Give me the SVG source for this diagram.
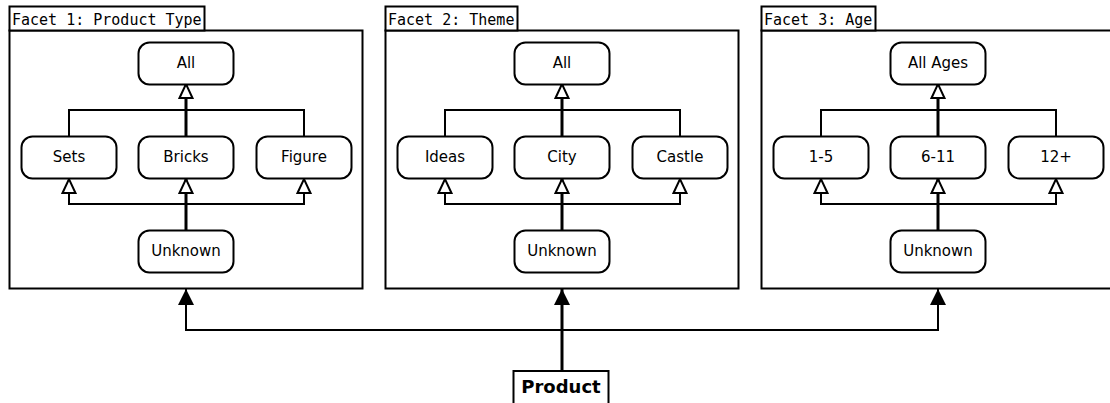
<svg xmlns="http://www.w3.org/2000/svg" width="1110" height="403" viewBox="0 0 1110 403">
<style>
.frame{fill:none;stroke:#000;stroke-width:2}
.lbl{fill:#fff;stroke:#000;stroke-width:2}
.lt{font-family:"DejaVu Sans Mono","Liberation Mono",monospace;font-size:15px;fill:#000}
.node rect{fill:#fff;stroke:#000;stroke-width:2}
.node text{font-family:"DejaVu Sans","Liberation Sans",sans-serif;font-size:15px;fill:#000;text-anchor:middle}
.c{fill:none;stroke:#000;stroke-width:2}
.c3{fill:none;stroke:#000;stroke-width:3}
.pt{font-family:"DejaVu Sans","Liberation Sans",sans-serif;font-size:18px;font-weight:bold;fill:#000;text-anchor:middle}
</style>
<defs>
<marker id="hollow" markerUnits="userSpaceOnUse" viewBox="0 0 16 14" refX="15" refY="7" markerWidth="16" markerHeight="14" orient="auto" overflow="visible">
<path d="M1,0.5 L15,7 L1,13.5 Z" fill="#fff" stroke="#000" stroke-width="2" stroke-linejoin="miter"/>
</marker>
<marker id="solid" markerUnits="userSpaceOnUse" viewBox="0 0 16 16" refX="16" refY="8" markerWidth="16" markerHeight="16" orient="auto" overflow="visible">
<path d="M0,0 L16,8 L0,16 Z" fill="#000"/>
</marker>
</defs>
<rect width="1110" height="403" fill="#fff"/>

<g id="facet1">
<rect class="frame" x="9.5" y="30.5" width="353" height="258"/>
<rect class="lbl" x="9.5" y="6.5" width="195" height="24"/>
<text class="lt" x="12" y="25">Facet 1: Product Type</text>
</g>
<g id="facet2">
<rect class="frame" x="385.5" y="30.5" width="353" height="258"/>
<rect class="lbl" x="385.5" y="6.5" width="132" height="24"/>
<text class="lt" x="388" y="25">Facet 2: Theme</text>
</g>
<g id="facet3">
<rect class="frame" x="761.5" y="30.5" width="360" height="258"/>
<rect class="lbl" x="761.5" y="6.5" width="114" height="24"/>
<text class="lt" x="764" y="25">Facet 3: Age</text>
</g>

<g id="connectors">
<!-- facet 1 -->
<path class="c" d="M69,136 V110 H304 V136"/>
<path class="c3" d="M186,136 V84" marker-end="url(#hollow)"/>
<path class="c" d="M186,204 H69 V179" marker-end="url(#hollow)"/>
<path class="c" d="M186,204 H304 V179" marker-end="url(#hollow)"/>
<path class="c3" d="M186,230 V179" marker-end="url(#hollow)"/>
<!-- facet 2 -->
<path class="c" d="M445,136 V110 H680 V136"/>
<path class="c3" d="M562,136 V84" marker-end="url(#hollow)"/>
<path class="c" d="M562,204 H445 V179" marker-end="url(#hollow)"/>
<path class="c" d="M562,204 H680 V179" marker-end="url(#hollow)"/>
<path class="c3" d="M562,230 V179" marker-end="url(#hollow)"/>
<!-- facet 3 -->
<path class="c" d="M821,136 V110 H1056 V136"/>
<path class="c3" d="M938,136 V84" marker-end="url(#hollow)"/>
<path class="c" d="M938,204 H821 V179" marker-end="url(#hollow)"/>
<path class="c" d="M938,204 H1056 V179" marker-end="url(#hollow)"/>
<path class="c3" d="M938,230 V179" marker-end="url(#hollow)"/>
<!-- product -->
<path class="c" d="M562,330 H186 V289" marker-end="url(#solid)"/>
<path class="c" d="M562,330 H938 V289" marker-end="url(#solid)"/>
<path class="c3" d="M562,371 V289" marker-end="url(#solid)"/>
</g>

<g id="f1-all" class="node"><rect x="138.5" y="42.5" width="95" height="42" rx="11"/><text x="186" y="68">All</text></g>
<g id="f1-sets" class="node"><rect x="21.5" y="136.5" width="95" height="42" rx="11"/><text x="69" y="162">Sets</text></g>
<g id="f1-bricks" class="node"><rect x="138.5" y="136.5" width="95" height="42" rx="11"/><text x="186" y="162">Bricks</text></g>
<g id="f1-figure" class="node"><rect x="256.5" y="136.5" width="95" height="42" rx="11"/><text x="304" y="162">Figure</text></g>
<g id="f1-unknown" class="node"><rect x="138.5" y="230.5" width="95" height="42" rx="11"/><text x="186" y="256">Unknown</text></g>

<g id="f2-all" class="node"><rect x="514.5" y="42.5" width="95" height="42" rx="11"/><text x="562" y="68">All</text></g>
<g id="f2-ideas" class="node"><rect x="397.5" y="136.5" width="95" height="42" rx="11"/><text x="445" y="162">Ideas</text></g>
<g id="f2-city" class="node"><rect x="514.5" y="136.5" width="95" height="42" rx="11"/><text x="562" y="162">City</text></g>
<g id="f2-castle" class="node"><rect x="632.5" y="136.5" width="95" height="42" rx="11"/><text x="680" y="162">Castle</text></g>
<g id="f2-unknown" class="node"><rect x="514.5" y="230.5" width="95" height="42" rx="11"/><text x="562" y="256">Unknown</text></g>

<g id="f3-all" class="node"><rect x="890.5" y="42.5" width="95" height="42" rx="11"/><text x="938" y="68">All Ages</text></g>
<g id="f3-1-5" class="node"><rect x="773.5" y="136.5" width="95" height="42" rx="11"/><text x="821" y="162">1-5</text></g>
<g id="f3-6-11" class="node"><rect x="890.5" y="136.5" width="95" height="42" rx="11"/><text x="938" y="162">6-11</text></g>
<g id="f3-12" class="node"><rect x="1008.5" y="136.5" width="95" height="42" rx="11"/><text x="1056" y="162">12+</text></g>
<g id="f3-unknown" class="node"><rect x="890.5" y="230.5" width="95" height="42" rx="11"/><text x="938" y="256">Unknown</text></g>

<g id="product">
<rect x="513.5" y="371" width="95" height="50" fill="#fff" stroke="#000" stroke-width="2"/>
<text class="pt" x="561" y="393">Product</text>
</g>
</svg>
